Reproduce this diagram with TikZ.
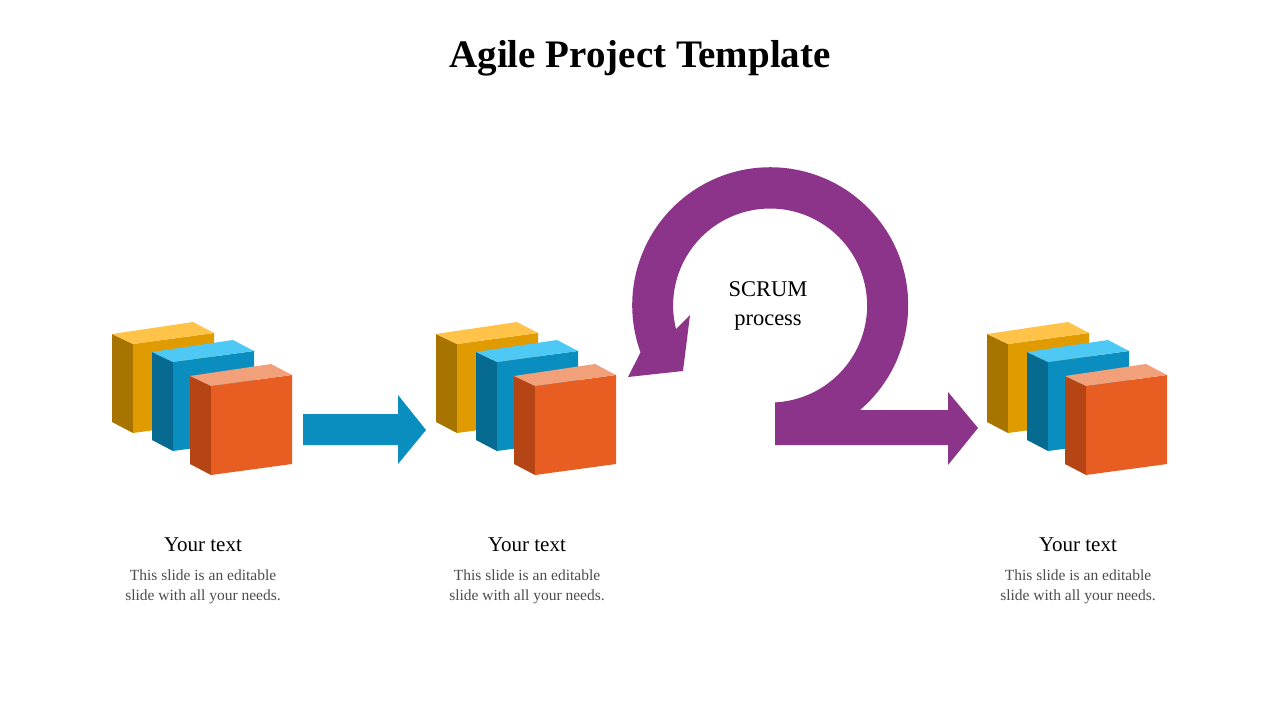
\documentclass[tikz,border=0pt]{standalone}
\usepackage{fontspec}
\setmainfont{Liberation Serif}
\definecolor{yf}{RGB}{224,155,0}\definecolor{yt}{RGB}{255,195,74}\definecolor{ys}{RGB}{168,116,0}
\definecolor{bf}{RGB}{10,142,192}\definecolor{bt}{RGB}{78,200,245}\definecolor{bs}{RGB}{7,106,144}
\definecolor{of}{RGB}{232,93,34}\definecolor{ot}{RGB}{242,160,122}\definecolor{os}{RGB}{181,69,20}
\definecolor{pu}{RGB}{139,52,137}
\begin{document}
\begin{tikzpicture}[x=1pt,y=-1pt,
  ttl/.style={font=\fontsize{39}{44}\selectfont\bfseries},
  hd/.style={font=\fontsize{21}{24}\selectfont},
  bd/.style={font=\fontsize{15.5}{20}\selectfont,text=black!70,align=center},
  sc/.style={font=\fontsize{22.5}{29}\selectfont,align=center}]
\useasboundingbox (0,0) rectangle (1280,720);
\newcommand{\mybox}[4]{%
  \begin{scope}[shift={#1}]
  \fill[#4] (0,0)--(21,10)--(21,99)--(0,88)--cycle;
  \fill[#2] (21,10)--(102,-1)--(102,88)--(21,99)--cycle;
  \fill[#3] (0,0)--(81,-12)--(102,-1)--(21,10)--cycle;
  \end{scope}}
\newcommand{\group}[1]{%
  \begin{scope}[shift={(#1,0)}]
  \mybox{(112,334)}{yf}{yt}{ys}
  \mybox{(152,352)}{bf}{bt}{bs}
  \mybox{(190,376)}{of}{ot}{os}
  \end{scope}}
\group{0}\group{324}\group{875}
\fill[bf] (303,414)--(398,414)--(398,395)--(426,430)--(398,464)--(398,445)--(303,445)--cycle;
\fill[pu] (775,445)--(948,445)--(948,465)--(978,428)--(948,392)--(948,410)--(860,410)
  arc[start angle=49.4,end angle=-200,radius=138]--(628,377)--(683,371)--(690,315)--(676,329)
  arc[start angle=-194,end angle=87,radius=97]--(775,405)--cycle;
\node[sc] (s) at (768,306) {SCRUM\\process};
\node[ttl] (t) at (640,58) {Agile Project Template};
\foreach \x/\n in {203/a,527/b,1078/c}{
  \node[hd] (h\n) at (\x,545) {Your text};
  \node[bd] (b\n) at (\x,587) {This slide is an editable\\slide with all your needs.};
}
\end{tikzpicture}
\end{document}
